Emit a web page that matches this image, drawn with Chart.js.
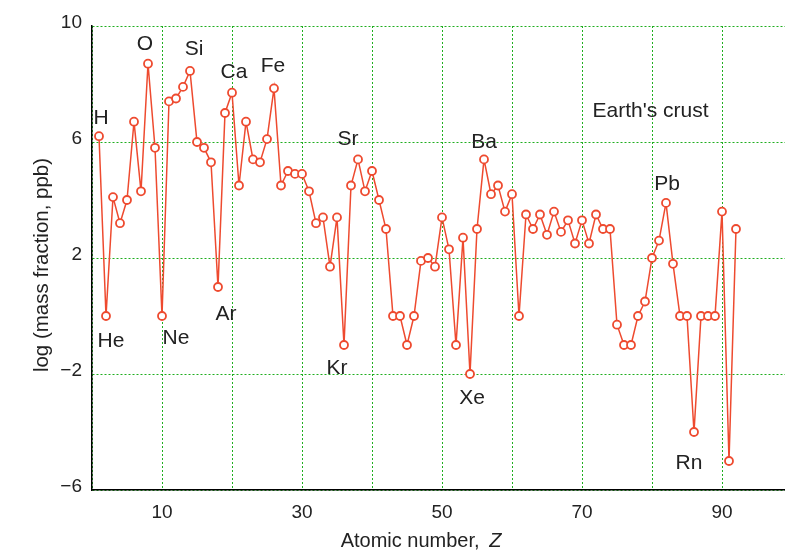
<!DOCTYPE html>
<html>
<head>
<meta charset="utf-8">
<script src="https://cdn.jsdelivr.net/npm/chart.js@4.4.1/dist/chart.umd.min.js"></script>
<style>
    body { margin: 0; background: #fff; }
    #wrap { width: 785px; height: 551px; }
</style>
</head>
<body>
<div id="wrap"><canvas id="crustChart"></canvas></div>
<script>
// Element symbols and atomic numbers
const elements = [
    'H','He','Li','Be','B','C','N','O','F','Ne',
    'Na','Mg','Al','Si','P','S','Cl','Ar','K','Ca',
    'Sc','Ti','V','Cr','Mn','Fe','Co','Ni','Cu','Zn',
    'Ga','Ge','As','Se','Br','Kr','Rb','Sr','Y','Zr',
    'Nb','Mo','Tc','Ru','Rh','Pd','Ag','Cd','In','Sn',
    'Sb','Te','I','Xe','Cs','Ba','La','Ce','Pr','Nd',
    'Pm','Sm','Eu','Gd','Tb','Dy','Ho','Er','Tm','Yb',
    'Lu','Hf','Ta','W','Re','Os','Ir','Pt','Au','Hg',
    'Tl','Pb','Bi','Po','At','Rn','Fr','Ra','Ac','Th',
    'Pa','U'
];
const atomicNumbers = [
    1, 2, 3, 4, 5, 6, 7, 8, 9, 10,
    11, 12, 13, 14, 15, 16, 17, 18, 19, 20,
    21, 22, 23, 24, 25, 26, 27, 28, 29, 30,
    31, 32, 33, 34, 35, 36, 37, 38, 39, 40,
    41, 42, 43, 44, 45, 46, 47, 48, 49, 50,
    51, 52, 53, 54, 55, 56, 57, 58, 59, 60,
    61, 62, 63, 64, 65, 66, 67, 68, 69, 70,
    71, 72, 73, 74, 75, 76, 77, 78, 79, 80,
    81, 82, 83, 84, 85, 86, 87, 88, 89, 90,
    91, 92
];
// log10 of mass fraction in ppb
const logMassFraction = [
    6.2, 0, 4.1, 3.2, 4.0, 6.7, 4.3, 8.7, 5.8, 0,
    7.4, 7.5, 7.9, 8.45, 6.0, 5.8, 5.3, 1.0, 7.0, 7.7,
    4.5, 6.7, 5.4, 5.3, 6.1, 7.85, 4.5, 5.0, 4.9, 4.9,
    4.3, 3.2, 3.4, 1.7, 3.4, -1.0, 4.5, 5.4, 4.3, 5.0,
    4.0, 3.0, 0, 0, -1.0, 0, 1.9, 2.0, 1.7, 3.4,
    2.3, -1.0, 2.7, -2.0, 3.0, 5.4, 4.2, 4.5, 3.6, 4.2,
    0, 3.5, 3.0, 3.5, 2.8, 3.6, 2.9, 3.3, 2.5, 3.3,
    2.5, 3.5, 3.0, 3.0, -0.3, -1.0, -1.0, 0, 0.5, 2.0,
    2.6, 3.9, 1.8, 0, 0, -4.0, 0, 0, 0, 3.6,
    -5.0, 3.0
];
const yTicks = [-6, -2, 2, 6, 10];
const xTickLabels = [10, 30, 50, 70, 90];
const labelledElements = ['H','He','O','Ne','Si','Ar','Ca','Fe','Sr','Kr','Ba','Xe','Pb','Rn'];

// Pixel offset of each symbol from its point
const labelOffsets = {
    H: [2, -18], He: [5, 25], O: [-3, -19], Ne: [14, 22], Si: [4, -22],
    Ar: [8, 27], Ca: [2, -20], Fe: [-1, -22], Sr: [-10, -20], Kr: [-7, 23],
    Ba: [0, -17], Xe: [2, 24], Pb: [1, -19], Rn: [-5, 31]
};

const FONT = '"Liberation Sans", Arial, Helvetica, sans-serif';
const TEXT = '#222222';
const RED = '#ee4a2f';
const GRID = '#1fae1f';

// Element symbols, panel label and axis titles
const annotationPlugin = {
    id: 'annotations',
    afterDraw(chart) {
        const { ctx, scales: { x, y } } = chart;
        ctx.save();
        ctx.fillStyle = TEXT;
        ctx.textAlign = 'center';
        ctx.textBaseline = 'middle';
        ctx.font = '21px ' + FONT;
        labelledElements.forEach(sym => {
            const i = elements.indexOf(sym);
            const off = labelOffsets[sym];
            ctx.fillText(sym,
                x.getPixelForValue(atomicNumbers[i]) + off[0],
                y.getPixelForValue(logMassFraction[i]) + off[1]);
        });
        ctx.fillText("Earth's crust", x.getPixelForValue(79.8), y.getPixelForValue(7.05));

        // x title with italic Z
        const part1 = 'Atomic number, ';
        ctx.font = '20px ' + FONT;
        const w1 = ctx.measureText(part1).width;
        ctx.font = 'italic 20px ' + FONT;
        const w2 = ctx.measureText('Z').width;
        const gap = 4;
        const startX = 421 - (w1 + gap + w2) / 2;
        ctx.textAlign = 'left';
        ctx.font = '20px ' + FONT;
        ctx.fillText(part1, startX, 541);
        ctx.font = 'italic 20px ' + FONT;
        ctx.fillText('Z', startX + w1 + gap, 541);

        // y title
        ctx.translate(42, 265);
        ctx.rotate(-Math.PI / 2);
        ctx.textAlign = 'center';
        ctx.font = '20.5px ' + FONT;
        ctx.fillText('log (mass fraction, ppb)', 0, 0);
        ctx.restore();
    }
};

const chartData = {
    datasets: [{
        data: atomicNumbers.map((z, i) => ({ x: z, y: logMassFraction[i] })),
        borderColor: RED,
        borderWidth: 1.5,
        pointRadius: 4,
        pointBorderWidth: 1.8,
        pointBackgroundColor: '#ffffff',
        pointBorderColor: RED,
        tension: 0,
        clip: false
    }]
};

const config = {
    type: 'line',
    data: chartData,
    options: {
        responsive: true,
        maintainAspectRatio: false,
        animation: false,
        layout: { autoPadding: false, padding: { top: 26, right: 0, left: 0, bottom: 0 } },
        plugins: {
            legend: { display: false },
            tooltip: { enabled: false }
        },
        scales: {
            x: {
                type: 'linear',
                min: 0,
                max: 99,
                afterFit(scale) {
                    scale.height = 61;
                    scale.paddingLeft = 0;
                    scale.paddingRight = 0;
                },
                grid: { color: GRID, lineWidth: 1, drawTicks: false },
                border: { display: true, color: '#000', width: 1.5, dash: [2, 2] },
                ticks: {
                    stepSize: 10,
                    includeBounds: false,
                    autoSkip: false,
                    maxRotation: 0,
                    padding: 11,
                    color: TEXT,
                    font: { family: FONT, size: 19 },
                    callback: v => xTickLabels.includes(v) ? String(v) : ''
                }
            },
            y: {
                min: -6,
                max: 10,
                afterFit(scale) {
                    scale.width = 92;
                    scale.paddingTop = 0;
                    scale.paddingBottom = 0;
                },
                afterBuildTicks(scale) { scale.ticks = yTicks.map(v => ({ value: v })); },
                grid: { color: GRID, lineWidth: 1, drawTicks: false },
                border: { display: true, color: '#000', width: 1.5, dash: [2, 2] },
                ticks: {
                    padding: 10,
                    labelOffset: -3,
                    color: TEXT,
                    font: { family: FONT, size: 19 },
                    callback: v => String(v).replace('-', '\u2212')
                }
            }
        }
    },
    plugins: [annotationPlugin]
};

const crustChart = new Chart(document.getElementById('crustChart'), config);
</script>
</body>
</html>
